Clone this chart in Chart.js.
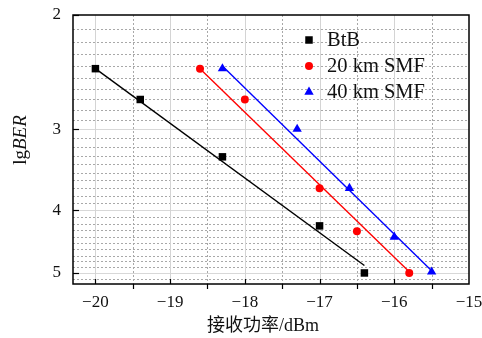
<!DOCTYPE html>
<html>
<head>
<meta charset="utf-8">
<style>
  html, body { margin: 0; padding: 0; background: #fff; }
  #wrap { width: 482px; height: 338px; }
</style>
</head>
<body>
<div id="wrap"><canvas id="c" width="482" height="338"></canvas></div>
<script src="https://cdn.jsdelivr.net/npm/chart.js@4/dist/chart.umd.min.js"></script>
<script>
// Received optical power (dBm) and lgBER for each link
const seriesNames = ['BtB', '20 km SMF', '40 km SMF'];
const btbPower = [-20.0, -19.4, -18.3, -17.0, -16.4];
const btbBer   = [2.42, 2.70, 3.31, 4.23, 5.0];
const smf20Power = [-18.6, -18.0, -17.0, -16.5, -15.8];
const smf20Ber   = [2.42, 2.70, 3.70, 4.31, 5.0];
const smf40Power = [-18.3, -17.3, -16.6, -16.0, -15.5];
const smf40Ber   = [2.42, 3.0, 3.70, 4.40, 4.98];

// Linear fit end points for each link
const btbFitPower = [-20.0, -16.4];
const btbFitBer   = [2.42, 4.87];
const smf20FitPower = [-18.6, -15.8];
const smf20FitBer   = [2.42, 4.98];
const smf40FitPower = [-18.28, -15.5];
const smf40FitBer   = [2.41, 4.96];

// Axis ticks
const xTickLabels = [-20, -19, -18, -17, -16, -15];
const yTickLabels = [2, 3, 4, 5];

const SERIF = '"Liberation Serif", "Times New Roman", serif';
const CJK = '"Liberation Serif", "Noto Sans CJK SC", serif';

const pts = (xs, ys) => xs.map((x, i) => ({ x: x, y: ys[i] }));

const markerSets = [
  { label: seriesNames[0], data: pts(btbPower, btbBer), color: '#000000', pointStyle: 'rect', pointRadius: 5.3 },
  { label: seriesNames[1], data: pts(smf20Power, smf20Ber), color: '#ff0000', pointStyle: 'circle', pointRadius: 4 },
  { label: seriesNames[2], data: pts(smf40Power, smf40Ber), color: '#0000ff', pointStyle: 'triangle', pointRadius: 5.4 }
];
const fitSets = [
  { data: pts(btbFitPower, btbFitBer), color: '#000000' },
  { data: pts(smf20FitPower, smf20FitBer), color: '#ff0000' },
  { data: pts(smf40FitPower, smf40FitBer), color: '#0000ff' }
];

const datasets = [];
fitSets.forEach(f => datasets.push({
  type: 'line', data: f.data, borderColor: f.color, borderWidth: 1.4,
  pointRadius: 0, fill: false, tension: 0, isFit: true
}));
markerSets.forEach(m => datasets.push({
  type: 'line', label: m.label, data: m.data, showLine: false,
  pointStyle: m.pointStyle, pointRadius: m.pointRadius, pointHoverRadius: m.pointRadius,
  backgroundColor: m.color, borderColor: m.color, pointBorderWidth: 0, isFit: false
}));

const crisp = v => Math.round(v) + 0.5;

// Grid, frame, ticks, legend and axis titles
const decor = {
  id: 'decor',
  beforeDatasetsDraw(chart) {
    const { ctx, chartArea: a, scales: { x, y } } = chart;
    ctx.save();
    ctx.lineWidth = 1;
    for (let k = 21; k <= 51; k++) {
      const py = crisp(y.getPixelForValue(k / 10));
      if (k % 10 === 0) { ctx.setLineDash([]); ctx.strokeStyle = '#d8d8d8'; }
      else { ctx.setLineDash([2, 2]); ctx.strokeStyle = '#a8a8a8'; }
      ctx.beginPath(); ctx.moveTo(a.left, py); ctx.lineTo(a.right, py); ctx.stroke();
    }
    for (let k = -40; k <= -31; k++) {
      const px = crisp(x.getPixelForValue(k / 2));
      if (k % 2 === 0) { ctx.setLineDash([]); ctx.strokeStyle = '#d4d4d4'; }
      else { ctx.setLineDash([2, 2]); ctx.strokeStyle = '#a8a8a8'; }
      ctx.beginPath(); ctx.moveTo(px, a.top); ctx.lineTo(px, a.bottom); ctx.stroke();
    }
    ctx.restore();
  },
  afterDraw(chart) {
    const { ctx, chartArea: a, scales: { x, y } } = chart;
    ctx.save();
    ctx.setLineDash([]);
    ctx.strokeStyle = '#000';
    ctx.lineWidth = 1.5;
    ctx.strokeRect(a.left, a.top, a.right - a.left, a.bottom - a.top);

    // x ticks: whole dBm inward, half dBm outward
    ctx.lineWidth = 1.2;
    for (let k = -40; k <= -31; k++) {
      const px = crisp(x.getPixelForValue(k / 2));
      ctx.beginPath();
      if (k % 2 === 0) { ctx.moveTo(px, a.bottom); ctx.lineTo(px, a.bottom - 5); }
      else { ctx.moveTo(px, a.bottom); ctx.lineTo(px, a.bottom + 5); }
      ctx.stroke();
    }
    // y ticks inward
    yTickLabels.forEach(v => {
      const py = crisp(y.getPixelForValue(v));
      ctx.beginPath(); ctx.moveTo(a.left, py); ctx.lineTo(a.left + 6, py); ctx.stroke();
    });

    // legend
    const lx = 309, ly0 = 40, dy = 26;
    chart.data.datasets.filter(d => !d.isFit).forEach((d, i) => {
      const cy = ly0 + i * dy;
      ctx.fillStyle = d.backgroundColor;
      ctx.strokeStyle = d.borderColor;
      Chart.helpers.drawPoint(ctx, { pointStyle: d.pointStyle, radius: d.pointRadius, rotation: 0, borderWidth: 0 }, lx, cy);
      ctx.fillStyle = '#111';
      ctx.font = '20.5px ' + SERIF;
      ctx.textAlign = 'left';
      ctx.textBaseline = 'middle';
      ctx.fillText(d.label, 327, cy + 1);
    });

    // x title
    ctx.fillStyle = '#111';
    ctx.font = '18px ' + CJK;
    ctx.textAlign = 'center';
    ctx.textBaseline = 'middle';
    ctx.fillText('接收功率/dBm', 263, 326);

    // y title: lg + italic BER
    ctx.translate(21, 140);
    ctx.rotate(-Math.PI / 2);
    const f1 = '19px ' + SERIF, f2 = 'italic 19px ' + SERIF;
    ctx.font = f1; const w1 = ctx.measureText('lg').width;
    ctx.font = f2; const w2 = ctx.measureText('BER').width;
    const sx = -(w1 + w2) / 2;
    ctx.textAlign = 'left';
    ctx.font = f1; ctx.fillText('lg', sx, 0);
    ctx.font = f2; ctx.fillText('BER', sx + w1, 0);
    ctx.restore();
  }
};

const minus = v => String(v).replace('-', '\u2212');
// tick labels may overhang the plot frame; let the layout padding decide its edges
const noOverhang = s => { s.paddingTop = 0; s.paddingBottom = 0; s.paddingLeft = 0; s.paddingRight = 0; };

new Chart(document.getElementById('c'), {
  data: { datasets: datasets },
  options: {
    responsive: false,
    animation: false,
    devicePixelRatio: 1,
    layout: { padding: { left: 0, right: 13, top: 15, bottom: 0 } },
    plugins: { legend: { display: false }, tooltip: { enabled: false } },
    scales: {
      x: {
        type: 'linear', min: -20.3, max: -15,
        grid: { display: false, drawTicks: false },
        border: { display: false },
        afterBuildTicks: s => { s.ticks = xTickLabels.map(v => ({ value: v })); },
        afterFit: s => { s.height = 54; noOverhang(s); },
        ticks: {
          autoSkip: false, maxRotation: 0, padding: 8, color: '#111',
          font: { family: SERIF, size: 17 },
          callback: v => minus(v)
        }
      },
      y: {
        type: 'logarithmic', min: 2, max: 5.2, reverse: true,
        grid: { display: false, drawTicks: false },
        border: { display: false },
        afterBuildTicks: s => { s.ticks = yTickLabels.map(v => ({ value: v })); },
        afterFit: s => { s.width = 73; noOverhang(s); },
        ticks: {
          autoSkip: false, padding: 12, color: '#111',
          font: { family: SERIF, size: 17 },
          callback: v => String(v)
        }
      }
    }
  },
  plugins: [decor]
});
</script>
</body>
</html>
